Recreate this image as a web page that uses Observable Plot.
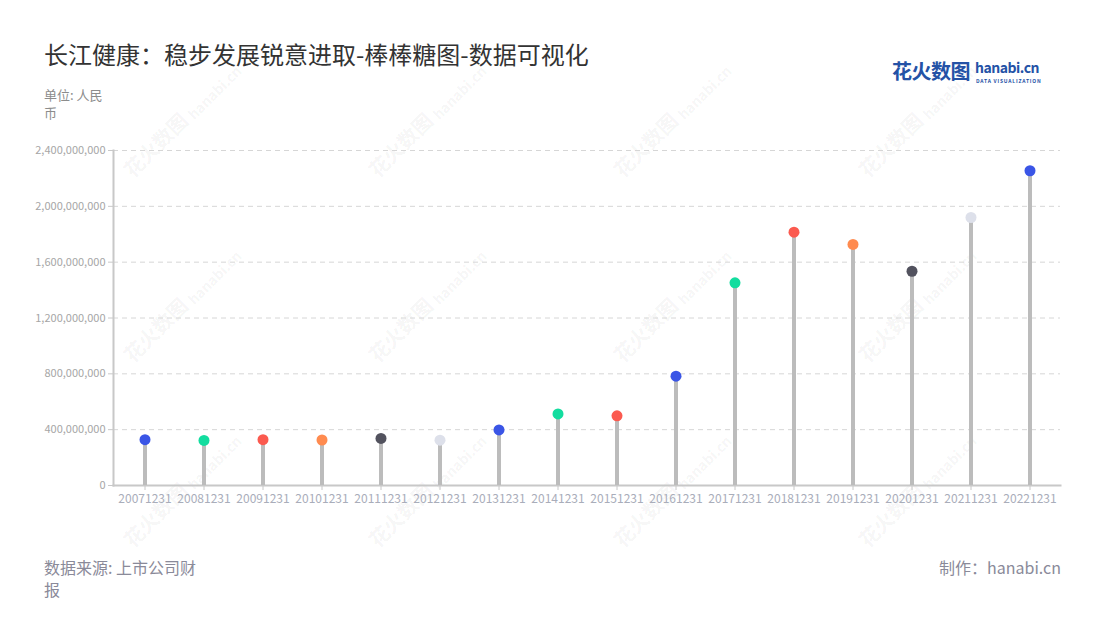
<!DOCTYPE html>
<html>
<head>
<meta charset="utf-8">
<script src="https://cdn.jsdelivr.net/npm/d3@7"></script>
<script src="https://cdn.jsdelivr.net/npm/@observablehq/plot@0.6"></script>
<style>
  html, body { margin:0; padding:0; background:#fff; }
  body { width:1100px; height:620px; position:relative; overflow:hidden;
         font-family:"Noto Sans CJK SC","Noto Sans",sans-serif; }
  .abs { position:absolute; white-space:nowrap; }
  #title { left:44px; top:38px; font-size:24px; color:#333; line-height:32px; }
  #unit { left:44px; top:86px; font-size:13px; color:#8c8c8c; line-height:18px; }
  #source { left:44px; top:556px; font-size:16px; color:#8a8a99; line-height:22px; }
  #maker { right:39px; top:556px; font-size:16px; color:#8a8a99; line-height:22px; }
  #logo1 { left:892px; top:58px; font-size:20px; font-weight:bold; color:#2452a6; line-height:26px; letter-spacing:-0.5px; }
  #logo2 { left:975px; top:58px; font-size:14px; font-weight:bold; color:#2452a6; line-height:18px; letter-spacing:-0.5px; }
  #logo3 { left:976px; top:78px; font-size:5px; color:#2452a6; line-height:6px; letter-spacing:0.8px; font-weight:bold; }
  .wm { position:absolute; color:rgba(0,0,0,0.055); font-weight:bold; transform:rotate(-45deg); transform-origin:center; white-space:nowrap; }
  #chart { position:absolute; left:0; top:0; }
</style>
</head>
<body>
<div id="wm"></div>
<div id="chart"></div>
<div class="abs" id="title">长江健康：稳步发展锐意进取-棒棒糖图-数据可视化</div>
<div class="abs" id="unit">单位: 人民<br>币</div>
<div class="abs" id="source">数据来源: 上市公司财<br>报</div>
<div class="abs" id="maker">制作：hanabi.cn</div>
<div class="abs" id="logo1">花火数图</div>
<div class="abs" id="logo2">hanabi.cn</div>
<div class="abs" id="logo3">DATA VISUALIZATION</div>
<script>
const dates = ["20071231","20081231","20091231","20101231","20111231","20121231","20131231","20141231",
               "20151231","20161231","20171231","20181231","20191231","20201231","20211231","20221231"];
const values = [328e6, 323e6, 328e6, 326e6, 337e6, 325e6, 398e6, 513e6,
                499e6, 783e6, 1452e6, 1815e6, 1727e6, 1535e6, 1920e6, 2255e6];
const dotColors = ["#3a55e6","#13dd9f","#fb5a4f","#ff8b4f","#52525e","#dde0ea","#3a55e6","#13dd9f",
                   "#fb5a4f","#3a55e6","#13dd9f","#fb5a4f","#ff8b4f","#52525e","#dde0ea","#3a55e6"];
const yTicks = [0, 400e6, 800e6, 1200e6, 1600e6, 2000e6, 2400e6];

const data = dates.map((d, i) => ({date: d, value: values[i], color: dotColors[i]}));

// watermarks
const wmX = [185, 430, 675, 920];
const wmY = [120, 305, 490];
const wmBox = document.getElementById("wm");
for (const x of wmX) for (const y of wmY) {
  const a = document.createElement("div");
  a.className = "wm"; a.textContent = "花火数图";
  a.style.fontSize = "20px"; a.style.left = (x - 70) + "px"; a.style.top = (y + 10) + "px";
  wmBox.appendChild(a);
  const b = document.createElement("div");
  b.className = "wm"; b.textContent = "hanabi.cn";
  b.style.fontSize = "14px"; b.style.left = (x - 5) + "px"; b.style.top = (y - 38) + "px";
  wmBox.appendChild(b);
}

const chart = Plot.plot({
  width: 1100,
  height: 620,
  marginLeft: 113,
  marginRight: 40,
  marginTop: 150,
  marginBottom: 135,
  style: {fontFamily: '"Noto Sans CJK SC","Noto Sans",sans-serif', background: "transparent", overflow: "visible"},
  x: {type: "band", domain: dates, padding: 0, label: null},
  y: {domain: [0, 2400e6], label: null},
  color: {type: "identity"},
  marks: [
    Plot.gridY(yTicks, {stroke: "#d6d6d6", strokeOpacity: 1, strokeDasharray: "5,4"}),
    Plot.axisY(yTicks, {tickFormat: d3.format(","), tickSize: 5, stroke: "#c8c8c8", strokeOpacity: 1, fill: "#a6a6a6", fontSize: 11, tickPadding: 3, label: null}),
    Plot.axisX({tickSize: 5, stroke: "#c8c8c8", strokeOpacity: 1, fill: "#a9adba", fontSize: 12, tickPadding: 4, label: null}),
    Plot.frame({anchor: "left", stroke: "#c8c8c8", strokeWidth: 2}),
    Plot.frame({anchor: "bottom", stroke: "#c8c8c8", strokeWidth: 2}),
    Plot.ruleX(data, {x: "date", y1: 0, y2: "value", stroke: "#bcbcbc", strokeWidth: 4}),
    Plot.dot(data, {x: "date", y: "value", r: 5.5, fill: "color", stroke: null})
  ]
});
document.getElementById("chart").appendChild(chart);
</script>
</body>
</html>
